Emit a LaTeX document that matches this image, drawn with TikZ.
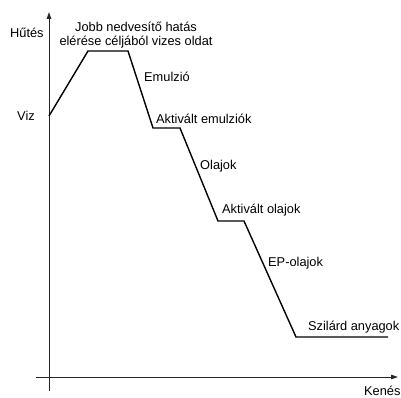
\documentclass[tikz,border=0pt]{standalone}
\usepackage{fontspec}
\setmainfont{Liberation Sans}
\usetikzlibrary{arrows.meta}
\tikzset{
  lbl/.style={inner sep=0pt,font=\fontsize{12.8}{14.5}\selectfont},
  axis/.style={line width=0.9pt,draw=black!85},
  curve/.style={line width=1.4pt,line join=miter}
}
\begin{document}
\begin{tikzpicture}[x=1pt,y=-1pt]
  \useasboundingbox (0,0) rectangle (401,398);
  % \draw[red] (0,0) rectangle (401,398);

  % axes
  \coordinate (ybot) at (49,391);
  \coordinate (ytop) at (49,12);
  \coordinate (xleft) at (36,377);
  \coordinate (xright) at (398,377);
  \draw[axis,-{Triangle[length=7pt,width=4.5pt]}] (ybot) -- (ytop);
  \draw[axis,-{Triangle[length=7pt,width=4.5pt]}] (xleft) -- (xright);

  \node[lbl,anchor=west] (hutes) at (10,33) {Hűtés};
  \node[lbl,anchor=base west] (kenes) at (364,395) {Kenés};

  % the path
  \coordinate (p0) at (49,116);
  \coordinate (p1) at (88,51);
  \coordinate (p2) at (128,51);
  \coordinate (p3) at (153,128);
  \coordinate (p4) at (180,128);
  \coordinate (p5) at (218,221);
  \coordinate (p6) at (244,221);
  \coordinate (p7) at (296,337);
  \coordinate (p8) at (388,337);
  \draw[curve] (p0) -- (p1) -- (p2) -- (p3) -- (p4) -- (p5) -- (p6)
    -- (p7) -- (p8);

  \node[lbl,anchor=west] (viz) at (17,116) {Viz};
  \node[lbl,align=center] (jobb) at (136,35)
    {Jobb nedvesítő hatás\\elérése céljából vizes oldat};
  \node[lbl,anchor=west] (emul) at (144,77) {Emulzió};
  \node[lbl,anchor=west] (aktem) at (156,119) {Aktivált emulziók};
  \node[lbl,anchor=west] (olaj) at (200,166) {Olajok};
  \node[lbl,anchor=west] (aktol) at (222,210) {Aktivált olajok};
  \node[lbl,anchor=west] (ep) at (268,263) {EP-olajok};
  \node[lbl,anchor=west] (szil) at (308,327) {Szilárd anyagok};
\end{tikzpicture}
\end{document}
